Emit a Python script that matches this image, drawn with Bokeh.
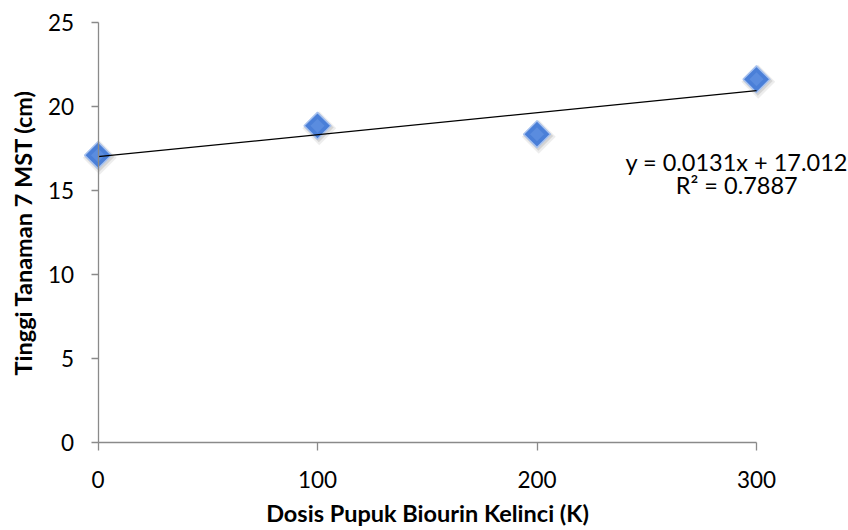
import math
from bokeh.plotting import figure
from bokeh.models import FixedTicker, Label, ColumnDataSource
from bokeh.transform import dodge
from bokeh.embed import file_html
from bokeh.resources import INLINE

# Data
dosis = [0, 100, 200, 300]
tinggi = [17.1, 18.85, 18.35, 21.62]
x_ticks = [0, 100, 200, 300]
y_ticks = [0, 5, 10, 15, 20, 25]
slope = 0.0131
intercept = 17.012
r_squared = 0.7887
x_title = "Dosis Pupuk Biourin Kelinci (K)"
y_title = "Tinggi Tanaman 7 MST (cm)"

FONT = "Lato"
W, H = 848, 530
# pixel placement of the plot area (axis 0..300 / 0..25)
px_left, px_right, px_top, px_bottom = 97.5, 756.0, 22.0, 442.0
sx = (px_right - px_left) / (x_ticks[-1] - x_ticks[0])
sy = (px_bottom - px_top) / (y_ticks[-1] - y_ticks[0])
xr = (x_ticks[0] - px_left / sx, x_ticks[-1] + (W - px_right) / sx)
yr = (y_ticks[0] - (H - px_bottom) / sy, y_ticks[-1] + px_top / sy)

p = figure(width=W, height=H, output_backend="svg", toolbar_location=None,
           x_range=xr, y_range=yr)
p.min_border = 0
p.min_border_left = 0
p.min_border_right = 0
p.min_border_top = 0
p.min_border_bottom = 0
p.outline_line_color = None
p.xgrid.visible = False
p.ygrid.visible = False
p.background_fill_color = "white"
p.border_fill_color = "white"

for ax, ticks in ((p.xaxis[0], x_ticks), (p.yaxis[0], y_ticks)):
    ax.ticker = FixedTicker(ticks=ticks)
    ax.bounds = (ticks[0], ticks[-1])
    ax.fixed_location = 0
    ax.axis_line_color = "#8a8a8a"
    ax.axis_line_width = 1.3
    ax.major_tick_line_color = "#8a8a8a"
    ax.major_tick_line_width = 1.3
    ax.major_tick_in = 0
    ax.minor_tick_line_color = None
    ax.major_label_text_font = FONT
    ax.major_label_text_font_size = "22.5px"
    ax.major_label_text_color = "black"
    ax.axis_label_text_font = FONT
    ax.axis_label_text_font_style = "bold"
    ax.axis_label_text_font_size = "23.5px"
    ax.axis_label_text_color = "black"

p.xaxis.major_tick_out = 8
p.xaxis.major_label_standoff = 20
p.xaxis.axis_label = x_title
p.xaxis.axis_label_standoff = 8
p.yaxis.major_tick_out = 7
p.yaxis.major_label_standoff = 17
p.yaxis.axis_label = y_title
p.yaxis.axis_label_standoff = 8

src = ColumnDataSource(dict(x=dosis, y=tinggi))

# soft shadow
p.scatter(x=dodge("x", 0.8, range=p.x_range), y=dodge("y", -0.15, range=p.y_range), source=src,
          marker="square", angle=math.pi / 4, size=24, fill_color="#000000", fill_alpha=0.07, line_color=None)
p.scatter(x=dodge("x", 0.6, range=p.x_range), y=dodge("y", -0.1, range=p.y_range), source=src,
          marker="square", angle=math.pi / 4, size=21, fill_color="#000000", fill_alpha=0.1, line_color=None)
# markers
p.scatter(x="x", y="y", source=src, marker="square", angle=math.pi / 4, size=19,
          fill_color="#4a7fd8", line_color="#a8c2ee", line_width=1.5)
p.scatter(x="x", y="y", source=src, marker="square", angle=math.pi / 4, size=10,
          fill_color="#6a9ae6", fill_alpha=0.5, line_color=None)

# trend line
tx = [min(dosis), max(dosis)]
ty = [slope * v + intercept for v in tx]
p.line(tx, ty, line_color="black", line_width=1.3)

eq1 = "y = %.4fx + %.3f" % (slope, intercept)
eq2 = "R\u00b2 = %.4f" % r_squared
p.add_layout(Label(x=291, y=16.72, text=eq1, text_align="center", text_baseline="middle",
                   text_font=FONT, text_font_size="23.5px", text_color="black"))
p.add_layout(Label(x=291, y=15.3, text=eq2, text_align="center", text_baseline="middle",
                   text_font=FONT, text_font_size="23.5px", text_color="black"))

open("out.html", "w").write(file_html(p, INLINE))
